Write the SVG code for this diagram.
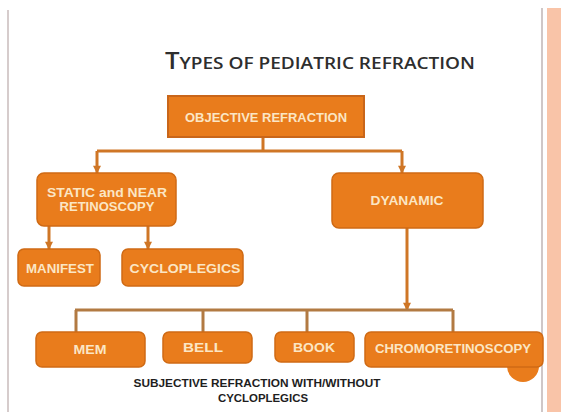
<svg xmlns="http://www.w3.org/2000/svg" width="561" height="412" viewBox="0 0 561 412">
<defs>
<style>
.box{fill:#e97c1c;stroke:#cf6a14;stroke-width:1.5}
.lbl{font-family:"Liberation Sans",Arial,sans-serif;font-weight:bold;font-size:12px;fill:#fbe6c4;text-anchor:middle}
.dark{font-family:"Liberation Sans",Arial,sans-serif;font-weight:bold;font-size:11px;fill:#1e1e1e;text-anchor:middle}
.title{font-family:"Open Sans","Liberation Sans",sans-serif;font-weight:600;fill:#2e2e2e}
.conn{fill:none;stroke:#cf7626;stroke-width:3}
.conn2{fill:none;stroke:#b27a42;stroke-width:3}
</style>
<marker id="ah" viewBox="0 0 10 10" refX="9" refY="5" markerWidth="9" markerHeight="8" markerUnits="userSpaceOnUse" orient="auto">
<path d="M0,0 L10,5 L0,10 Z" fill="#cf7626"/>
</marker>
</defs>
<rect x="0" y="0" width="561" height="412" fill="#ffffff"/>
<line x1="8" y1="10" x2="8" y2="412" stroke="#d6cccc" stroke-width="2"/>
<line x1="542" y1="8" x2="542" y2="412" stroke="#cfc7c7" stroke-width="2"/>
<rect x="547" y="8" width="14" height="404" fill="#f9c4a8"/>

<text class="title" x="320" y="69" text-anchor="middle" textLength="310" lengthAdjust="spacingAndGlyphs"><tspan font-size="23">T</tspan><tspan font-size="17">YPES OF PEDIATRIC REFRACTION</tspan></text>

<g id="connectors">
<path class="conn" d="M263,137 V151 M97,151 H402"/>
<path class="conn" d="M97,151 V173" marker-end="url(#ah)"/>
<path class="conn" d="M402,151 V173" marker-end="url(#ah)"/>
<path class="conn" d="M49,226 V249" marker-end="url(#ah)"/>
<path class="conn" d="M148,226 V249" marker-end="url(#ah)"/>
<path class="conn" d="M407,228 V310" marker-end="url(#ah)"/>
<path class="conn2" d="M75,310 H453 M76,310 V332 M203,310 V332 M307,310 V332 M453,310 V332"/>
</g>

<g id="objective">
<rect x="168" y="96" width="196" height="41" fill="#e97c1c" stroke="#c9661a" stroke-width="2"/>
<text class="lbl" x="266" y="122" textLength="162" lengthAdjust="spacingAndGlyphs">OBJECTIVE REFRACTION</text>
</g>
<g id="static">
<rect class="box" x="37" y="173" width="139" height="53" rx="7"/>
<text class="lbl" x="107" y="197" textLength="120" lengthAdjust="spacingAndGlyphs">STATIC and NEAR</text>
<text class="lbl" x="107" y="211" textLength="95" lengthAdjust="spacingAndGlyphs">RETINOSCOPY</text>
</g>
<g id="dynamic">
<rect class="box" x="332" y="173" width="151" height="55" rx="7"/>
<text class="lbl" x="407" y="205" textLength="73" lengthAdjust="spacingAndGlyphs">DYANAMIC</text>
</g>
<g id="manifest">
<rect class="box" x="18" y="249" width="82" height="37" rx="6"/>
<text class="lbl" x="60" y="273" textLength="68" lengthAdjust="spacingAndGlyphs">MANIFEST</text>
</g>
<g id="cycloplegics">
<rect class="box" x="122" y="249" width="121" height="37" rx="6"/>
<text class="lbl" x="185" y="273" textLength="111" lengthAdjust="spacingAndGlyphs">CYCLOPLEGICS</text>
</g>
<g id="mem">
<rect class="box" x="36" y="332" width="109" height="35" rx="6"/>
<text class="lbl" x="90" y="354" textLength="33" lengthAdjust="spacingAndGlyphs">MEM</text>
</g>
<g id="bell">
<rect class="box" x="163" y="332" width="89" height="31" rx="6"/>
<text class="lbl" x="203" y="352" textLength="40" lengthAdjust="spacingAndGlyphs">BELL</text>
</g>
<g id="book">
<rect class="box" x="275" y="332" width="79" height="30" rx="6"/>
<text class="lbl" x="314" y="352" textLength="42" lengthAdjust="spacingAndGlyphs">BOOK</text>
</g>
<g id="chromo">
<circle cx="523" cy="366" r="16" fill="#e97c1c"/>
<rect class="box" x="365" y="332" width="178" height="35" rx="6"/>
<text class="lbl" x="453" y="353" textLength="156" lengthAdjust="spacingAndGlyphs">CHROMORETINOSCOPY</text>
</g>
<g id="subjective">
<text class="dark" x="257" y="387" textLength="247" lengthAdjust="spacingAndGlyphs">SUBJECTIVE REFRACTION WITH/WITHOUT</text>
<text class="dark" x="263" y="402" textLength="90" lengthAdjust="spacingAndGlyphs">CYCLOPLEGICS</text>
</g>
</svg>
